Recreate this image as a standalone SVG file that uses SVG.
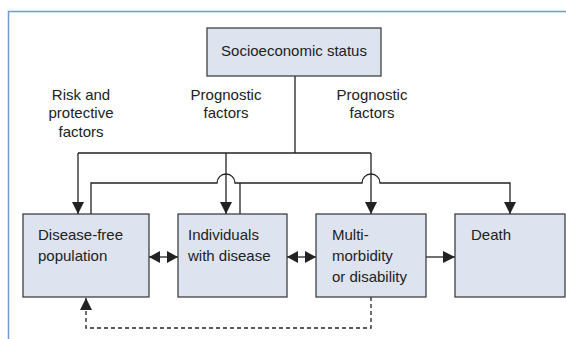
<svg xmlns="http://www.w3.org/2000/svg" width="566" height="339" viewBox="0 0 566 339">
<style>
.box{fill:#dde3ef;stroke:#333;stroke-width:1.2}
.t{font-family:"Liberation Sans",Arial,sans-serif;font-size:15px;fill:#222}
.ln{fill:none;stroke:#222;stroke-width:1.3}
.dash{fill:none;stroke:#222;stroke-width:1.3;stroke-dasharray:4 3}
.frame{fill:none;stroke:#6d9bd0;stroke-width:1.5}
</style>
<defs>
<marker id="ah" markerUnits="userSpaceOnUse" markerWidth="12" markerHeight="12" refX="12" refY="6" orient="auto">
<path d="M0,0 L12,6 L0,12 z" fill="#222"/>
</marker>
<marker id="ahs" markerUnits="userSpaceOnUse" markerWidth="11" markerHeight="12" refX="11" refY="6" orient="auto-start-reverse">
<path d="M0,0 L11,6 L0,12 z" fill="#222"/>
</marker>
</defs>
<path class="frame" d="M8.5,339 V11.5 H566"/>
<g id="labels">
<text class="t" text-anchor="middle" x="81" y="99.5">Risk and</text>
<text class="t" text-anchor="middle" x="81" y="118">protective</text>
<text class="t" text-anchor="middle" x="81" y="136.5">factors</text>
<text class="t" text-anchor="middle" x="226" y="99.5">Prognostic</text>
<text class="t" text-anchor="middle" x="226" y="118">factors</text>
<text class="t" text-anchor="middle" x="372" y="99.5">Prognostic</text>
<text class="t" text-anchor="middle" x="372" y="118">factors</text>
</g>
<g id="connectors">
<path class="ln" d="M295,76 V153"/>
<path class="ln" d="M78,153 H371"/>
<path class="ln" d="M78,153 V214" marker-end="url(#ah)"/>
<path class="ln" d="M226,153 V214" marker-end="url(#ah)"/>
<path class="ln" d="M371,153 V214" marker-end="url(#ah)"/>
<path class="ln" d="M91,214 V183 H217 A9,9 0 0 1 235,183 H362 A9,9 0 0 1 380,183 H510 V214" marker-end="url(#ah)"/>
<path class="ln" d="M240,214 V183"/>
<path class="ln" d="M149,257 H178" marker-start="url(#ahs)" marker-end="url(#ahs)"/>
<path class="ln" d="M287,257 H316" marker-start="url(#ahs)" marker-end="url(#ahs)"/>
<path class="ln" d="M426,257 H455" marker-end="url(#ah)"/>
<path class="dash" d="M371,297 V328 H86 V298" marker-end="url(#ah)"/>
</g>
<g id="ses">
<rect class="box" x="207" y="28" width="174" height="48"/>
<text class="t" text-anchor="middle" x="294" y="56">Socioeconomic status</text>
</g>
<g id="disease-free">
<rect class="box" x="23" y="214" width="126" height="83"/>
<text class="t" x="38" y="240">Disease-free</text>
<text class="t" x="38" y="261">population</text>
</g>
<g id="individuals">
<rect class="box" x="178" y="214" width="109" height="83"/>
<text class="t" x="188" y="240">Individuals</text>
<text class="t" x="188" y="261">with disease</text>
</g>
<g id="multimorbidity">
<rect class="box" x="316" y="214" width="110" height="83"/>
<text class="t" x="332" y="240">Multi-</text>
<text class="t" x="332" y="261">morbidity</text>
<text class="t" x="332" y="282">or disability</text>
</g>
<g id="death">
<rect class="box" x="455" y="214" width="110" height="83"/>
<text class="t" x="471" y="240">Death</text>
</g>
</svg>
